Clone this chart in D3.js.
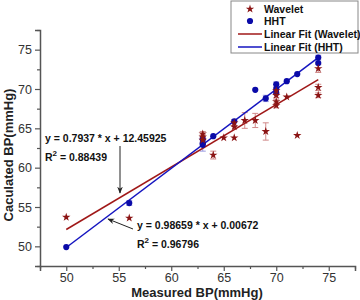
<!DOCTYPE html>
<html><head><meta charset="utf-8">
<script src="https://cdn.jsdelivr.net/npm/d3@7"></script>
<style>body{margin:0;background:#fff}svg{display:block;font-family:"Liberation Sans",Arial,sans-serif}</style>
</head><body>
<svg id="c" width="360" height="300"></svg>
<script>
const wavX = [50, 56, 63, 63, 63, 64, 65, 66, 66, 66, 67, 68, 69, 70, 70, 70, 70, 71, 72, 74, 74, 74];
const wavY = [53.7, 53.6, 64.3, 63.9, 63.5, 61.6, 63.8, 65.7, 65.2, 63.8, 66.0, 66.0, 64.6, 69.8, 69.2, 68.4, 67.9, 69.0, 64.1, 72.6, 70.2, 69.2];
const wavErr = [0, 0, 0.3, 0.3, 0.3, 0.5, 0, 0.4, 0, 0, 1.0, 0.9, 1.1, 0.4, 0.3, 0.3, 0.3, 0, 0, 0.5, 0.4, 0.3];
const hhtX = [50, 56, 63, 63, 63, 64, 66, 68, 69, 70, 70, 70, 71, 72, 74, 74];
const hhtY = [49.9, 55.5, 63.6, 63.1, 62.9, 64.0, 65.9, 69.9, 68.8, 70.6, 70.0, 69.5, 71.0, 71.9, 74.0, 73.3];
const hhtErr = [0, 0.3, 0.3, 0, 0.8, 0, 0, 0, 0.4, 0.3, 0, 0, 0, 0, 0.3, 0];
const fitWavelet = [[50, 52.14], [74, 71.19]];
const fitHHT = [[50, 49.85], [74, 74.0]];
const majorTicks = [50, 55, 60, 65, 70, 75];
const minorTicks = [47.5, 52.5, 57.5, 62.5, 67.5, 72.5, 77.5];
const eqWavelet = "y = 0.7937 * x + 12.45925", r2Wavelet = "0.88439";
const eqHHT = "y = 0.98659 * x + 0.00672", r2HHT = "0.96796";
const legendLabels = ["Wavelet", "HHT", "Linear Fit (Wavelet)", "Linear Fit (HHT)"];

const RED = "#8b1414", BLUE = "#0a0aa8", RED_L = "#a01818", BLUE_L = "#1414c0";
const svg = d3.select("#c");
const x = d3.scaleLinear().domain([47.5, 77.5]).range([40, 355]);
const y = d3.scaleLinear().domain([47.5, 77.5]).range([266, 30]);

// axes
const axCol = "#555";
const xa = svg.append("g").attr("transform", "translate(0,266)")
  .call(d3.axisBottom(x).tickValues(majorTicks).tickSize(5).tickFormat(d3.format("d")));
svg.append("g").attr("transform", "translate(0,266)")
  .call(d3.axisBottom(x).tickValues(minorTicks).tickSize(3).tickFormat("")).select(".domain").remove();
const ya = svg.append("g").attr("transform", "translate(40,0)")
  .call(d3.axisLeft(y).tickValues(majorTicks).tickSize(5).tickFormat(d3.format("d")));
svg.append("g").attr("transform", "translate(40,0)")
  .call(d3.axisLeft(y).tickValues(minorTicks).tickSize(3).tickFormat("")).select(".domain").remove();
svg.selectAll(".domain").attr("stroke", axCol).attr("stroke-width", 1.5);
svg.selectAll(".tick line").attr("stroke", axCol).attr("stroke-width", 1.2);
svg.selectAll(".tick text").attr("font-size", 12.5).attr("fill", "#333").attr("font-family", "Liberation Sans, Arial, sans-serif");
xa.selectAll(".tick text").attr("y", 7).attr("dy", "0.71em");
ya.selectAll(".tick text").attr("x", -8);

// axis titles
svg.append("text").attr("x", 197).attr("y", 297).attr("text-anchor", "middle")
  .attr("font-size", 13).attr("font-weight", "bold").attr("fill", "#222").text("Measured BP(mmHg)");
svg.append("text").attr("transform", "translate(13,155) rotate(-90)").attr("text-anchor", "middle")
  .attr("font-size", 13).attr("font-weight", "bold").attr("fill", "#222").text("Caculated BP(mmHg)");

// error bars
function errBars(xs, ys, es, col) {
  const g = svg.append("g").attr("stroke", col).attr("stroke-width", 1);
  xs.forEach((xv, i) => {
    if (!es[i]) return;
    const cx = x(xv), y1 = y(ys[i] - es[i]), y2 = y(ys[i] + es[i]);
    g.append("line").attr("x1", cx).attr("x2", cx).attr("y1", y1).attr("y2", y2);
    g.append("line").attr("x1", cx - 3).attr("x2", cx + 3).attr("y1", y1).attr("y2", y1);
    g.append("line").attr("x1", cx - 3).attr("x2", cx + 3).attr("y1", y2).attr("y2", y2);
  });
}
errBars(hhtX, hhtY, hhtErr, "#9a9ae0");
errBars(wavX, wavY, wavErr, "#d08a8a");

// fit lines
const line = d3.line().x(d => x(d[0])).y(d => y(d[1]));
svg.append("path").attr("d", line(fitWavelet)).attr("stroke", RED_L).attr("stroke-width", 1.5).attr("fill", "none");
svg.append("path").attr("d", line(fitHHT)).attr("stroke", BLUE_L).attr("stroke-width", 1.5).attr("fill", "none");

// points
const star = d3.symbol().type(d3.symbolStar).size(22);
const circ = d3.symbol().type(d3.symbolCircle).size(30);
svg.append("g").selectAll("path").data(hhtX).join("path")
  .attr("d", circ).attr("fill", BLUE)
  .attr("transform", (d, i) => `translate(${x(d)},${y(hhtY[i])})`);
svg.append("g").selectAll("path").data(wavX).join("path")
  .attr("d", star).attr("fill", RED)
  .attr("transform", (d, i) => `translate(${x(d)},${y(wavY[i])})`);

// annotations
function eqText(tx, ty, eq, r2, ry) {
  svg.append("text").attr("x", tx).attr("y", ty).attr("font-size", 10.5).attr("font-weight", "bold").attr("fill", "#111").text(eq);
  const t = svg.append("text").attr("x", tx).attr("y", ry).attr("font-size", 10.5).attr("font-weight", "bold").attr("fill", "#111");
  t.append("tspan").text("R");
  t.append("tspan").attr("font-size", 8).attr("dy", -5).text("2");
  t.append("tspan").attr("dy", 5).text(" = " + r2);
}
eqText(45, 142, eqWavelet, r2Wavelet, 161);
eqText(137, 229, eqHHT, r2HHT, 248);

svg.append("defs").append("marker").attr("id", "ah").attr("viewBox", "0 0 10 10")
  .attr("refX", 9).attr("refY", 5).attr("markerWidth", 7).attr("markerHeight", 7).attr("orient", "auto")
  .append("path").attr("d", "M0,1 L10,5 L0,9 L3,5 Z").attr("fill", "#222");
svg.append("line").attr("x1", 120).attr("y1", 146).attr("x2", 120).attr("y2", 193)
  .attr("stroke", "#222").attr("stroke-width", 1).attr("marker-end", "url(#ah)");
svg.append("line").attr("x1", 133).attr("y1", 229).attr("x2", 108).attr("y2", 219)
  .attr("stroke", "#222").attr("stroke-width", 1).attr("marker-end", "url(#ah)");

// legend
const lg = svg.append("g");
lg.append("rect").attr("x", 231).attr("y", 1).attr("width", 127).attr("height", 52)
  .attr("fill", "#fff").attr("stroke", "#888").attr("stroke-width", 1);
const ly = [9, 21, 34, 47];
lg.append("path").attr("d", star).attr("fill", RED).attr("transform", `translate(250,${ly[0]})`);
lg.append("path").attr("d", circ).attr("fill", BLUE).attr("transform", `translate(250,${ly[1]})`);
lg.append("line").attr("x1", 238).attr("x2", 262).attr("y1", ly[2]).attr("y2", ly[2]).attr("stroke", RED_L).attr("stroke-width", 1.5);
lg.append("line").attr("x1", 238).attr("x2", 262).attr("y1", ly[3]).attr("y2", ly[3]).attr("stroke", BLUE_L).attr("stroke-width", 1.5);
legendLabels.forEach((s, i) => {
  lg.append("text").attr("x", 264).attr("y", ly[i]).attr("dy", "0.35em")
    .attr("font-size", 10.5).attr("font-weight", "bold").attr("fill", "#111").text(s);
});
</script>
</body></html>
